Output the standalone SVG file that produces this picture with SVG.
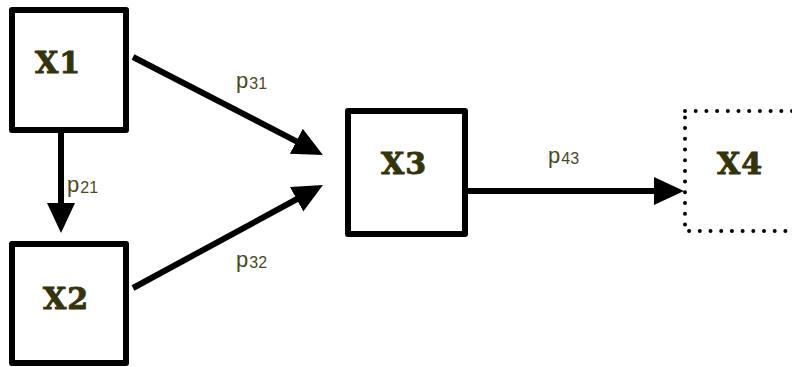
<svg xmlns="http://www.w3.org/2000/svg" width="792" height="367" viewBox="0 0 792 367">
  <style>
    .box { fill: #ffffff; stroke: #000000; stroke-width: 6; stroke-linejoin: round; }
    .dotted { fill: #ffffff; stroke: #000000; stroke-width: 4; stroke-linecap: round; stroke-dasharray: 0 10.7; }
    .name { font-family: "DejaVu Serif", "Liberation Serif", serif; font-weight: bold; font-size: 30px; fill: #35330a; stroke: #35330a; stroke-width: 0.9; letter-spacing: 1px; text-anchor: middle; }
    .edge { stroke: #000000; stroke-width: 6; fill: none; }
    .lbl { font-family: "Liberation Sans", Arial, sans-serif; font-size: 22px; fill: #4a4a1c; }
    .sub { font-size: 16px; }
  </style>
  <defs>
    <!-- filled triangular head; the shaft stops 20 units before the tip -->
    <marker id="head" markerUnits="userSpaceOnUse" markerWidth="32" markerHeight="30" refX="10" refY="14" orient="auto">
      <polygon points="0,0 30,14 0,28" fill="#000000"/>
    </marker>
  </defs>

  <rect width="792" height="367" fill="#ffffff"/>

  <g id="connectors">
    <line class="edge" x1="61" y1="133" x2="61" y2="213" marker-end="url(#head)"/>
    <line class="edge" x1="133" y1="57" x2="305.2" y2="145.8" marker-end="url(#head)"/>
    <line class="edge" x1="133" y1="288" x2="305.4" y2="194.5" marker-end="url(#head)"/>
    <line class="edge" x1="468" y1="191" x2="664" y2="191" marker-end="url(#head)"/>
    <text class="lbl" x="67" y="192">p<tspan class="sub" dx="1" dy="1">21</tspan></text>
    <text class="lbl" x="236" y="88">p<tspan class="sub" dx="1" dy="1">31</tspan></text>
    <text class="lbl" x="236" y="267">p<tspan class="sub" dx="1" dy="1">32</tspan></text>
    <text class="lbl" x="548" y="163">p<tspan class="sub" dx="1" dy="1">43</tspan></text>
  </g>

  <g id="X1">
    <rect class="box" x="12" y="10" width="114" height="120"/>
    <text class="name" x="58" y="73">X1</text>
  </g>
  <g id="X2">
    <rect class="box" x="12" y="244" width="114" height="119"/>
    <text class="name" x="66" y="309">X2</text>
  </g>
  <g id="X3">
    <rect class="box" x="348" y="111" width="117" height="123"/>
    <text class="name" x="404" y="174">X3</text>
  </g>
  <g id="X4">
    <rect class="dotted" x="685" y="111" width="140" height="120"/>
    <text class="name" x="740" y="174">X4</text>
  </g>
</svg>
